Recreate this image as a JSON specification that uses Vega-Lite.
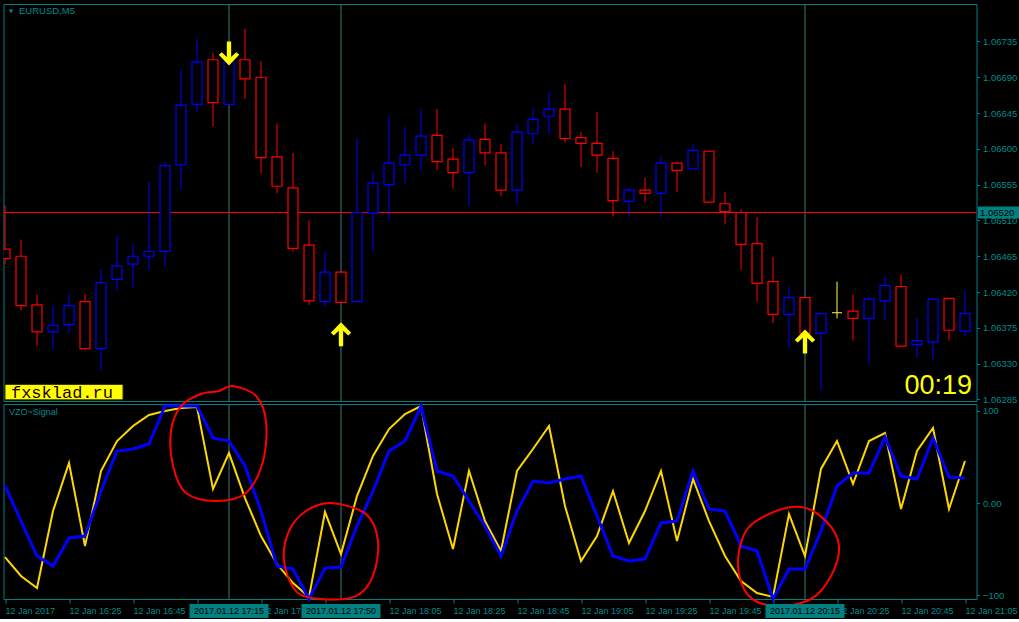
{
  "$schema": "https://vega.github.io/schema/vega-lite/v6.json",
  "background": "black",
  "padding": {"left": -1.5, "top": 3, "right": 0, "bottom": 0},
  "spacing": 3,
  "bounds": "flush",
  "config": {
    "view": {"stroke": "#008080", "strokeWidth": 1},
    "scale": {"continuousPadding": 0},
    "axis": {"domain": false, "grid": false, "labelColor": "#008b8b", "tickColor": "#008080", "labelFont": "Liberation Sans", "labelFontSize": 9, "tickSize": 3, "labelFlush": false, "labelOverlap": false},
    "text": {"font": "Liberation Sans"}
  },
  "datasets": {
    "candles": [
      {"k":0,"o":1.06474,"h":1.06529,"l":1.06455,"c":1.06462,"d":"down"},
      {"k":1,"o":1.06465,"h":1.06486,"l":1.06397,"c":1.06403,"d":"down"},
      {"k":2,"o":1.06404,"h":1.06417,"l":1.06352,"c":1.06370,"d":"down"},
      {"k":3,"o":1.06370,"h":1.06403,"l":1.06348,"c":1.06378,"d":"up"},
      {"k":4,"o":1.06379,"h":1.06417,"l":1.06368,"c":1.06403,"d":"up"},
      {"k":5,"o":1.06408,"h":1.06418,"l":1.06347,"c":1.06349,"d":"down"},
      {"k":6,"o":1.06349,"h":1.06448,"l":1.06321,"c":1.06432,"d":"up"},
      {"k":7,"o":1.06436,"h":1.06491,"l":1.06422,"c":1.06453,"d":"up"},
      {"k":8,"o":1.06455,"h":1.06480,"l":1.06426,"c":1.06465,"d":"up"},
      {"k":9,"o":1.06465,"h":1.06558,"l":1.06447,"c":1.06471,"d":"up"},
      {"k":10,"o":1.06471,"h":1.06584,"l":1.06453,"c":1.06579,"d":"up"},
      {"k":11,"o":1.06580,"h":1.06700,"l":1.06549,"c":1.06655,"d":"up"},
      {"k":12,"o":1.06656,"h":1.06738,"l":1.06646,"c":1.06709,"d":"up"},
      {"k":13,"o":1.06712,"h":1.06721,"l":1.06628,"c":1.06658,"d":"down"},
      {"k":14,"o":1.06656,"h":1.06725,"l":1.06655,"c":1.06709,"d":"up"},
      {"k":15,"o":1.06712,"h":1.06751,"l":1.06663,"c":1.06688,"d":"down"},
      {"k":16,"o":1.06690,"h":1.06710,"l":1.06569,"c":1.06589,"d":"down"},
      {"k":17,"o":1.06590,"h":1.06632,"l":1.06544,"c":1.06553,"d":"down"},
      {"k":18,"o":1.06551,"h":1.06595,"l":1.06471,"c":1.06475,"d":"down"},
      {"k":19,"o":1.06479,"h":1.06510,"l":1.06404,"c":1.06409,"d":"down"},
      {"k":20,"o":1.06408,"h":1.06471,"l":1.06402,"c":1.06445,"d":"up"},
      {"k":21,"o":1.06445,"h":1.06446,"l":1.06406,"c":1.06407,"d":"down"},
      {"k":22,"o":1.06408,"h":1.06613,"l":1.06407,"c":1.06520,"d":"up"},
      {"k":23,"o":1.06519,"h":1.06570,"l":1.06472,"c":1.06557,"d":"up"},
      {"k":24,"o":1.06555,"h":1.06641,"l":1.06511,"c":1.06582,"d":"up"},
      {"k":25,"o":1.06580,"h":1.06628,"l":1.06557,"c":1.06592,"d":"up"},
      {"k":26,"o":1.06592,"h":1.06650,"l":1.06573,"c":1.06616,"d":"up"},
      {"k":27,"o":1.06617,"h":1.06650,"l":1.06573,"c":1.06584,"d":"down"},
      {"k":28,"o":1.06587,"h":1.06601,"l":1.06550,"c":1.06570,"d":"down"},
      {"k":29,"o":1.06570,"h":1.06618,"l":1.06528,"c":1.06611,"d":"up"},
      {"k":30,"o":1.06612,"h":1.06632,"l":1.06579,"c":1.06595,"d":"down"},
      {"k":31,"o":1.06595,"h":1.06606,"l":1.06541,"c":1.06548,"d":"down"},
      {"k":32,"o":1.06548,"h":1.06631,"l":1.06530,"c":1.06621,"d":"up"},
      {"k":33,"o":1.06619,"h":1.06650,"l":1.06606,"c":1.06637,"d":"up"},
      {"k":34,"o":1.06641,"h":1.06672,"l":1.06618,"c":1.06650,"d":"up"},
      {"k":35,"o":1.06650,"h":1.06682,"l":1.06608,"c":1.06613,"d":"down"},
      {"k":36,"o":1.06614,"h":1.06621,"l":1.06577,"c":1.06607,"d":"down"},
      {"k":37,"o":1.06607,"h":1.06646,"l":1.06570,"c":1.06592,"d":"down"},
      {"k":38,"o":1.06588,"h":1.06597,"l":1.06515,"c":1.06535,"d":"down"},
      {"k":39,"o":1.06534,"h":1.06551,"l":1.06515,"c":1.06548,"d":"up"},
      {"k":40,"o":1.06548,"h":1.06564,"l":1.06533,"c":1.06544,"d":"down"},
      {"k":41,"o":1.06544,"h":1.06590,"l":1.06515,"c":1.06582,"d":"up"},
      {"k":42,"o":1.06582,"h":1.06583,"l":1.06546,"c":1.06573,"d":"down"},
      {"k":43,"o":1.06575,"h":1.06606,"l":1.06573,"c":1.06598,"d":"up"},
      {"k":44,"o":1.06597,"h":1.06598,"l":1.06533,"c":1.06533,"d":"down"},
      {"k":45,"o":1.06531,"h":1.06546,"l":1.06505,"c":1.06521,"d":"down"},
      {"k":46,"o":1.06520,"h":1.06524,"l":1.06448,"c":1.06480,"d":"down"},
      {"k":47,"o":1.06481,"h":1.06514,"l":1.06408,"c":1.06431,"d":"down"},
      {"k":48,"o":1.06433,"h":1.06464,"l":1.06381,"c":1.06392,"d":"down"},
      {"k":49,"o":1.06392,"h":1.06427,"l":1.06349,"c":1.06413,"d":"up"},
      {"k":50,"o":1.06413,"h":1.06414,"l":1.06364,"c":1.06368,"d":"down"},
      {"k":51,"o":1.06368,"h":1.06393,"l":1.06296,"c":1.06393,"d":"up"},
      {"k":52,"o":1.06394,"h":1.06433,"l":1.06387,"c":1.06394,"d":"doji"},
      {"k":53,"o":1.06396,"h":1.06417,"l":1.06359,"c":1.06387,"d":"down"},
      {"k":54,"o":1.06387,"h":1.06414,"l":1.06330,"c":1.06411,"d":"up"},
      {"k":55,"o":1.06409,"h":1.06440,"l":1.06384,"c":1.06428,"d":"up"},
      {"k":56,"o":1.06427,"h":1.06442,"l":1.06352,"c":1.06352,"d":"down"},
      {"k":57,"o":1.06354,"h":1.06387,"l":1.06337,"c":1.06359,"d":"up"},
      {"k":58,"o":1.06357,"h":1.06411,"l":1.06334,"c":1.06411,"d":"up"},
      {"k":59,"o":1.06412,"h":1.06412,"l":1.06359,"c":1.06372,"d":"down"},
      {"k":60,"o":1.06371,"h":1.06422,"l":1.06364,"c":1.06393,"d":"up"}
    ],
    "ind": [
      {"k":0,"vzo":-58.7,"sig":18.5},{"k":1,"vzo":-79.3,"sig":-19.6},{"k":2,"vzo":-92.4,"sig":-57.6},
      {"k":3,"vzo":-8.7,"sig":-68.5},{"k":4,"vzo":43.5,"sig":-38},{"k":5,"vzo":-46.7,"sig":-35.9},
      {"k":6,"vzo":34.8,"sig":13},{"k":7,"vzo":67.4,"sig":56.5},{"k":8,"vzo":83.7,"sig":58.7},
      {"k":9,"vzo":95.7,"sig":64.1},{"k":10,"vzo":100,"sig":105.4},{"k":11,"vzo":103.3,"sig":105.4},
      {"k":12,"vzo":104.3,"sig":105.4},{"k":13,"vzo":15.2,"sig":70.7},{"k":14,"vzo":54.3,"sig":67.4},
      {"k":15,"vzo":5.4,"sig":40.2},{"k":16,"vzo":-35.9,"sig":-8.7},{"k":17,"vzo":-66.3,"sig":-68.5},
      {"k":18,"vzo":-87,"sig":-71.7},{"k":19,"vzo":-102.2,"sig":-104.3},{"k":20,"vzo":-9.8,"sig":-70.7},
      {"k":21,"vzo":-55.4,"sig":-69.6},{"k":22,"vzo":7.6,"sig":-25},{"k":23,"vzo":51.1,"sig":13},
      {"k":24,"vzo":80.4,"sig":56.5},{"k":25,"vzo":96.7,"sig":67.4},{"k":26,"vzo":105.4,"sig":105.4},
      {"k":27,"vzo":9.8,"sig":34.8},{"k":28,"vzo":-50,"sig":29.3},{"k":29,"vzo":34.8,"sig":2.2},
      {"k":30,"vzo":-19.6,"sig":-25},{"k":31,"vzo":-52.2,"sig":-57.6},{"k":32,"vzo":34.8,"sig":-8.7},
      {"k":33,"vzo":58.7,"sig":23.9},{"k":34,"vzo":83.7,"sig":21.7},{"k":35,"vzo":-3.3,"sig":26.1},
      {"k":36,"vzo":-63,"sig":29.3},{"k":37,"vzo":-35.9,"sig":-14.1},{"k":38,"vzo":13,"sig":-57.6},
      {"k":39,"vzo":-43.5,"sig":-63},{"k":40,"vzo":-8.7,"sig":-60.9},{"k":41,"vzo":34.8,"sig":-21.7},
      {"k":42,"vzo":-41.3,"sig":-19.6},{"k":43,"vzo":26.1,"sig":34.8},{"k":44,"vzo":-19.6,"sig":-6.5},
      {"k":45,"vzo":-57.6,"sig":-8.7},{"k":46,"vzo":-84.8,"sig":-46.7},{"k":47,"vzo":-97.8,"sig":-52.2},
      {"k":48,"vzo":-102,"sig":-104.3},{"k":49,"vzo":-12,"sig":-71.7},{"k":50,"vzo":-57.6,"sig":-71.7},
      {"k":51,"vzo":37,"sig":-30.4},{"k":52,"vzo":67.4,"sig":18.5},{"k":53,"vzo":20.7,"sig":32.6},
      {"k":54,"vzo":67.4,"sig":32.6},{"k":55,"vzo":76.1,"sig":71.7},{"k":56,"vzo":-6.5,"sig":29.3},
      {"k":57,"vzo":56.5,"sig":26.1},{"k":58,"vzo":81.5,"sig":70.7},{"k":59,"vzo":-6.5,"sig":28.3},
      {"k":60,"vzo":45.7,"sig":27.2}
    ],
    "circles": [
      {"id":1,"i":0,"k":14.25,"v":127.2},{"id":1,"i":1,"k":15.69,"v":116.3},{"id":1,"i":2,"k":16.31,"v":89.1},
      {"id":1,"i":3,"k":16.13,"v":45.7},{"id":1,"i":4,"k":15.06,"v":10.9},{"id":1,"i":5,"k":13.19,"v":2.2},
      {"id":1,"i":6,"k":11.31,"v":10.9},{"id":1,"i":7,"k":10.5,"v":40.2},{"id":1,"i":8,"k":10.375,"v":78.3},
      {"id":1,"i":9,"k":11,"v":105.4},{"id":1,"i":10,"k":12.25,"v":118.5},{"id":1,"i":11,"k":13.375,"v":121.7},
      {"id":2,"i":0,"k":20.375,"v":0},{"id":2,"i":1,"k":22.56,"v":-12},{"id":2,"i":2,"k":23.31,"v":-41.3},
      {"id":2,"i":3,"k":23,"v":-79.3},{"id":2,"i":4,"k":21.94,"v":-101.1},{"id":2,"i":5,"k":19.75,"v":-104.3},
      {"id":2,"i":6,"k":18.19,"v":-95.7},{"id":2,"i":7,"k":17.44,"v":-63},{"id":2,"i":8,"k":17.75,"v":-30.4},
      {"id":2,"i":9,"k":18.81,"v":-8.7},
      {"id":3,"i":0,"k":49.75,"v":-4.3},{"id":3,"i":1,"k":51.31,"v":-19.6},{"id":3,"i":2,"k":52.125,"v":-46.7},
      {"id":3,"i":3,"k":51.625,"v":-79.3},{"id":3,"i":4,"k":50.375,"v":-104.3},{"id":3,"i":5,"k":48.19,"v":-112},
      {"id":3,"i":6,"k":46.5,"v":-101.1},{"id":3,"i":7,"k":45.81,"v":-68.5},{"id":3,"i":8,"k":46.31,"v":-30.4},
      {"id":3,"i":9,"k":47.875,"v":-10.9}
    ],
    "vlines": [
      {"k":14,"t":"2017.01.12 17:15"},
      {"k":21,"t":"2017.01.12 17:50"},
      {"k":50,"t":"2017.01.12 20:15"}
    ],
    "arrows": [
      {"k":14,"p":1.06720,"d":"down"},
      {"k":21,"p":1.06367,"d":"up"},
      {"k":50,"p":1.06358,"d":"up"}
    ],
    "levels": [{"price":1.0652,"label":"1.06520"}]
  },
  "vconcat": [
    {
      "width": 973,
      "height": 397,
      "layer": [
        {
          "data": {"name":"vlines"},
          "mark": {"type":"rule","color":"#3c7c7c","strokeWidth":1},
          "encoding": {"x": {"field":"k","type":"quantitative","scale":{"domain":[-0.09375,60.71875],"nice":false,"zero":false,"padding":0},"axis":null}}
        },
        {
          "data": {"name":"levels"},
          "mark": {"type":"rule","color":"#ff0000","strokeWidth":1},
          "encoding": {"y": {"field":"price","type":"quantitative","scale":{"domain":[1.0628307,1.0678207],"nice":false,"zero":false,"padding":0},"axis":{"orient":"right","title":null,"values":[1.06285,1.0633,1.06375,1.0642,1.06465,1.0651,1.06555,1.066,1.06645,1.0669,1.06735],"format":".5f","labelPadding":3,"labelFontSize":9.5,"labelOverlap":false}}}
        },
        {
          "data": {"name":"candles"},
          "mark": {"type":"rule","strokeWidth":1,"clip":true},
          "encoding": {
            "x": {"field":"k","type":"quantitative","axis":null},
            "y": {"field":"l","type":"quantitative","axis":{"orient":"right","title":null,"values":[1.06285,1.0633,1.06375,1.0642,1.06465,1.0651,1.06555,1.066,1.06645,1.0669,1.06735],"format":".5f","labelPadding":3,"labelFontSize":9.5,"labelOverlap":false}},
            "y2": {"field":"h"},
            "color": {"field":"d","type":"nominal","scale":{"domain":["up","down","doji"],"range":["#0000ff","#ff0000","#ffff40"]},"legend":null}
          }
        },
        {
          "data": {"name":"candles"},
          "mark": {"type":"bar","width":10,"fill":"black","strokeWidth":1.2,"clip":true},
          "encoding": {
            "x": {"field":"k","type":"quantitative","axis":null},
            "y": {"field":"o","type":"quantitative","axis":{"orient":"right","title":null,"values":[1.06285,1.0633,1.06375,1.0642,1.06465,1.0651,1.06555,1.066,1.06645,1.0669,1.06735],"format":".5f","labelPadding":3,"labelFontSize":9.5,"labelOverlap":false}},
            "y2": {"field":"c"},
            "stroke": {"field":"d","type":"nominal","scale":{"domain":["up","down","doji"],"range":["#0000ff","#ff0000","#ffff40"]},"legend":null}
          }
        },
        {
          "data": {"name":"arrows"},
          "mark": {"type":"point","filled":true,"size":576,"color":"#ffff00","opacity":1,"strokeWidth":0},
          "encoding": {
            "x": {"field":"k","type":"quantitative","axis":null},
            "y": {"field":"p","type":"quantitative","axis":{"orient":"right","title":null,"values":[1.06285,1.0633,1.06375,1.0642,1.06465,1.0651,1.06555,1.066,1.06645,1.0669,1.06735],"format":".5f","labelPadding":3,"labelFontSize":9.5,"labelOverlap":false}},
            "shape": {"field":"d","type":"nominal","scale":{"domain":["up","down"],"range":["M0,-1L0.85,-0.12L0.6,0.1L0.18,-0.3L0.18,1L-0.18,1L-0.18,-0.3L-0.6,0.1L-0.85,-0.12Z","M0,1L0.85,0.12L0.6,-0.1L0.18,0.3L0.18,-1L-0.18,-1L-0.18,0.3L-0.6,-0.1L-0.85,0.12Z"]},"legend":null}
          }
        },
        {
          "data": {"values":[{}]},
          "mark": {"type":"point","shape":"triangle-down","filled":true,"size":22,"color":"#008080","opacity":1},
          "encoding": {"x":{"datum":0.375,"type":"quantitative","axis":null},"y":{"datum":1.067727,"type":"quantitative","axis":{"orient":"right","title":null,"values":[1.06285,1.0633,1.06375,1.0642,1.06465,1.0651,1.06555,1.066,1.06645,1.0669,1.06735],"format":".5f","labelPadding":3,"labelFontSize":9.5,"labelOverlap":false}}}
        },
        {
          "data": {"values":[{}]},
          "mark": {"type":"text","text":"EURUSD,M5","align":"left","baseline":"middle","fontSize":9.5,"color":"#008b8b"},
          "encoding": {"x":{"datum":0.875,"type":"quantitative","axis":null},"y":{"datum":1.067727,"type":"quantitative","axis":{"orient":"right","title":null,"values":[1.06285,1.0633,1.06375,1.0642,1.06465,1.0651,1.06555,1.066,1.06645,1.0669,1.06735],"format":".5f","labelPadding":3,"labelFontSize":9.5,"labelOverlap":false}}}
        },
        {
          "data": {"values":[{}]},
          "mark": {"type":"rect","fill":"#ffff00","stroke":"#303000","strokeWidth":1},
          "encoding": {"x":{"datum":0.0,"type":"quantitative","axis":null},"x2":{"datum":7.375},"y":{"datum":1.063039,"type":"quantitative","axis":{"orient":"right","title":null,"values":[1.06285,1.0633,1.06375,1.0642,1.06465,1.0651,1.06555,1.066,1.06645,1.0669,1.06735],"format":".5f","labelPadding":3,"labelFontSize":9.5,"labelOverlap":false}},"y2":{"datum":1.062845}}
        },
        {
          "data": {"values":[{}]},
          "mark": {"type":"text","text":"fxsklad.ru","align":"center","baseline":"middle","font":"Liberation Mono","fontSize":17,"color":"#200000"},
          "encoding": {"x":{"datum":3.56,"type":"quantitative","axis":null},"y":{"datum":1.06293,"type":"quantitative","axis":{"orient":"right","title":null,"values":[1.06285,1.0633,1.06375,1.0642,1.06465,1.0651,1.06555,1.066,1.06645,1.0669,1.06735],"format":".5f","labelPadding":3,"labelFontSize":9.5,"labelOverlap":false}}}
        },
        {
          "data": {"values":[{}]},
          "mark": {"type":"text","text":"00:19","align":"right","baseline":"alphabetic","fontSize":27,"color":"#ffff00"},
          "encoding": {"x":{"datum":60.44,"type":"quantitative","axis":null},"y":{"datum":1.06292,"type":"quantitative","axis":{"orient":"right","title":null,"values":[1.06285,1.0633,1.06375,1.0642,1.06465,1.0651,1.06555,1.066,1.06645,1.0669,1.06735],"format":".5f","labelPadding":3,"labelFontSize":9.5,"labelOverlap":false}}}
        },
        {
          "data": {"values":[{}]},
          "mark": {"type":"rect","fill":"#008080","clip":false},
          "encoding": {"x":{"datum":60.81,"type":"quantitative","axis":null},"x2":{"datum":63.44},"y":{"datum":1.065276,"type":"quantitative","axis":{"orient":"right","title":null,"values":[1.06285,1.0633,1.06375,1.0642,1.06465,1.0651,1.06555,1.066,1.06645,1.0669,1.06735],"format":".5f","labelPadding":3,"labelFontSize":9.5,"labelOverlap":false}},"y2":{"datum":1.065125}}
        },
        {
          "data": {"name":"levels"},
          "mark": {"type":"text","align":"left","baseline":"middle","fontSize":9.5,"color":"black","clip":false},
          "encoding": {"x":{"datum":60.94,"type":"quantitative","axis":null},"y":{"field":"price","type":"quantitative","axis":{"orient":"right","title":null,"values":[1.06285,1.0633,1.06375,1.0642,1.06465,1.0651,1.06555,1.066,1.06645,1.0669,1.06735],"format":".5f","labelPadding":3,"labelFontSize":9.5,"labelOverlap":false}},"text":{"field":"label"}}
        }
      ]
    },
    {
      "width": 973,
      "height": 195,
      "layer": [
        {
          "data": {"name":"vlines"},
          "mark": {"type":"rule","color":"#3c7c7c","strokeWidth":1},
          "encoding": {"x": {"field":"k","type":"quantitative","scale":{"domain":[-0.09375,60.71875],"nice":false,"zero":false,"padding":0},
            "axis":{"orient":"bottom","title":null,"values":[0,4,8,12,16,20,24,28,32,36,40,44,48,52,56,60],"labelExpr":"datum.value == 0 ? '12 Jan 2017' : timeFormat(datetime(2017, 0, 12, 16, 5 + 5 * datum.value), '%d %b %H:%M')","labelAlign":"left","labelBaseline":"top","tickSize":4,"labelPadding":3,"labelOverlap":false}}}
        },
        {
          "data": {"name":"ind"},
          "mark": {"type":"line","color":"#ffd700","strokeWidth":2},
          "encoding": {
            "x":{"field":"k","type":"quantitative","axis":{"orient":"bottom","title":null,"values":[0,4,8,12,16,20,24,28,32,36,40,44,48,52,56,60],"labelExpr":"datum.value == 0 ? '12 Jan 2017' : timeFormat(datetime(2017, 0, 12, 16, 5 + 5 * datum.value), '%d %b %H:%M')","labelAlign":"left","labelBaseline":"top","tickSize":4,"labelPadding":3,"labelOverlap":false}},
            "y":{"field":"vzo","type":"quantitative","scale":{"domain":[-104.3,107.6],"nice":false,"zero":false,"padding":0},"axis":{"orient":"right","title":null,"values":[-100,0,100],"labelExpr":"datum.value == 0 ? '0.00' : format(datum.value, 'd')","labelPadding":3,"labelFontSize":9.5,"labelOverlap":false}}}
        },
        {
          "data": {"name":"ind"},
          "mark": {"type":"line","color":"#0000ff","strokeWidth":3},
          "encoding": {
            "x":{"field":"k","type":"quantitative","axis":{"orient":"bottom","title":null,"values":[0,4,8,12,16,20,24,28,32,36,40,44,48,52,56,60],"labelExpr":"datum.value == 0 ? '12 Jan 2017' : timeFormat(datetime(2017, 0, 12, 16, 5 + 5 * datum.value), '%d %b %H:%M')","labelAlign":"left","labelBaseline":"top","tickSize":4,"labelPadding":3,"labelOverlap":false}},
            "y":{"field":"sig","type":"quantitative","axis":{"orient":"right","title":null,"values":[-100,0,100],"labelExpr":"datum.value == 0 ? '0.00' : format(datum.value, 'd')","labelPadding":3,"labelFontSize":9.5,"labelOverlap":false}}}
        },
        {
          "data": {"name":"circles"},
          "mark": {"type":"line","color":"#ff0000","strokeWidth":2,"interpolate":"cardinal-closed","clip":false},
          "encoding": {
            "x":{"field":"k","type":"quantitative","axis":{"orient":"bottom","title":null,"values":[0,4,8,12,16,20,24,28,32,36,40,44,48,52,56,60],"labelExpr":"datum.value == 0 ? '12 Jan 2017' : timeFormat(datetime(2017, 0, 12, 16, 5 + 5 * datum.value), '%d %b %H:%M')","labelAlign":"left","labelBaseline":"top","tickSize":4,"labelPadding":3,"labelOverlap":false}},
            "y":{"field":"v","type":"quantitative","axis":{"orient":"right","title":null,"values":[-100,0,100],"labelExpr":"datum.value == 0 ? '0.00' : format(datum.value, 'd')","labelPadding":3,"labelFontSize":9.5,"labelOverlap":false}},
            "detail":{"field":"id","type":"nominal"},"order":{"field":"i","type":"quantitative"}}
        },
        {
          "data": {"name":"vlines"},
          "mark": {"type":"bar","width":79,"color":"#008080","clip":false},
          "encoding": {
            "x":{"field":"k","type":"quantitative","axis":{"orient":"bottom","title":null,"values":[0,4,8,12,16,20,24,28,32,36,40,44,48,52,56,60],"labelExpr":"datum.value == 0 ? '12 Jan 2017' : timeFormat(datetime(2017, 0, 12, 16, 5 + 5 * datum.value), '%d %b %H:%M')","labelAlign":"left","labelBaseline":"top","tickSize":4,"labelPadding":3,"labelOverlap":false}},
            "y":{"datum":-109.8,"type":"quantitative","axis":{"orient":"right","title":null,"values":[-100,0,100],"labelExpr":"datum.value == 0 ? '0.00' : format(datum.value, 'd')","labelPadding":3,"labelFontSize":9.5,"labelOverlap":false}},
            "y2":{"datum":-125}}
        },
        {
          "data": {"name":"vlines"},
          "mark": {"type":"text","fontSize":9,"color":"black","baseline":"middle","align":"center","clip":false},
          "encoding": {
            "x":{"field":"k","type":"quantitative","axis":{"orient":"bottom","title":null,"values":[0,4,8,12,16,20,24,28,32,36,40,44,48,52,56,60],"labelExpr":"datum.value == 0 ? '12 Jan 2017' : timeFormat(datetime(2017, 0, 12, 16, 5 + 5 * datum.value), '%d %b %H:%M')","labelAlign":"left","labelBaseline":"top","tickSize":4,"labelPadding":3,"labelOverlap":false}},
            "y":{"datum":-117.4,"type":"quantitative","axis":{"orient":"right","title":null,"values":[-100,0,100],"labelExpr":"datum.value == 0 ? '0.00' : format(datum.value, 'd')","labelPadding":3,"labelFontSize":9.5,"labelOverlap":false}},
            "text":{"field":"t"}}
        },
        {
          "data": {"values":[{}]},
          "mark": {"type":"text","text":"VZO~Signal","align":"left","baseline":"middle","fontSize":9,"color":"#008b8b"},
          "encoding": {
            "x":{"datum":0.25,"type":"quantitative","axis":{"orient":"bottom","title":null,"values":[0,4,8,12,16,20,24,28,32,36,40,44,48,52,56,60],"labelExpr":"datum.value == 0 ? '12 Jan 2017' : timeFormat(datetime(2017, 0, 12, 16, 5 + 5 * datum.value), '%d %b %H:%M')","labelAlign":"left","labelBaseline":"top","tickSize":4,"labelPadding":3,"labelOverlap":false}},
            "y":{"datum":98.9,"type":"quantitative","axis":{"orient":"right","title":null,"values":[-100,0,100],"labelExpr":"datum.value == 0 ? '0.00' : format(datum.value, 'd')","labelPadding":3,"labelFontSize":9.5,"labelOverlap":false}}}
        }
      ]
    }
  ]
}
